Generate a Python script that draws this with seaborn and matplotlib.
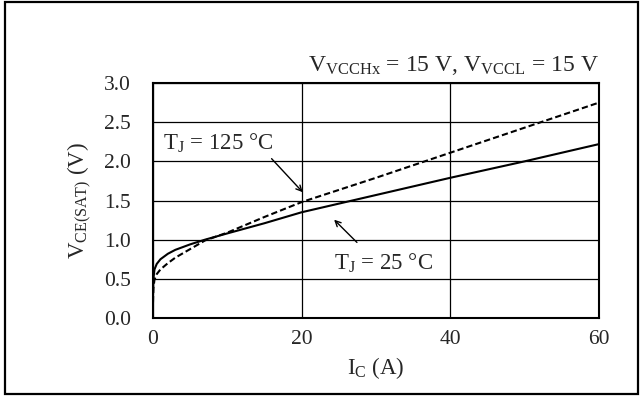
import numpy as np
import pandas as pd
import matplotlib
matplotlib.use("Agg")
import matplotlib.pyplot as plt
import seaborn as sns
from matplotlib.patches import Rectangle

# =========================
# DATA
# =========================
ic_25 = [0.0, 0.05, 0.2, 0.5, 1.0, 2.0, 3.0, 5.0, 7.0, 10.0, 15.0, 20.0, 30.0, 40.0, 50.0, 60.0]
vce_25 = [0.30, 0.50, 0.62, 0.69, 0.75, 0.82, 0.87, 0.94, 1.00, 1.08, 1.21, 1.35, 1.57, 1.79, 2.00, 2.22]

ic_125 = [0.0, 0.05, 0.2, 0.5, 1.0, 2.0, 3.0, 5.0, 7.0, 10.0, 15.0, 20.0, 30.0, 40.0, 50.0, 60.0]
vce_125 = [0.20, 0.38, 0.49, 0.56, 0.62, 0.70, 0.77, 0.88, 0.99, 1.09, 1.29, 1.48, 1.79, 2.11, 2.43, 2.75]

x_ticks = [0, 20, 40, 60]
y_ticks = [0.0, 0.5, 1.0, 1.5, 2.0, 2.5, 3.0]

df = pd.concat([
    pd.DataFrame({"Ic": ic_25, "Vce": vce_25, "Tj": "25"}),
    pd.DataFrame({"Ic": ic_125, "Vce": vce_125, "Tj": "125"}),
])

# =========================
# STYLE
# =========================
sns.set_style("white")
plt.rcParams["font.family"] = ["Liberation Serif", "DejaVu Serif"]
plt.rcParams["mathtext.fontset"] = "custom"
plt.rcParams["mathtext.rm"] = "Liberation Serif"
plt.rcParams["mathtext.it"] = "Liberation Serif:italic"

fig = plt.figure(figsize=(6.4, 3.96), dpi=100)
ax = fig.add_axes([153 / 640, 1 - 318 / 396, 446 / 640, 235 / 396])

sns.lineplot(data=df, x="Ic", y="Vce", style="Tj", style_order=["25", "125"],
             dashes={"25": "", "125": (3, 1.5)}, color="black", linewidth=1.5,
             legend=False, ax=ax, sort=False, estimator=None)

ax.set_xlim(0, 60)
ax.set_ylim(0, 3)
ax.set_xticks(x_ticks)
ax.set_yticks(y_ticks)
ax.set_yticklabels([f"{v:.1f}" for v in y_ticks])
ax.tick_params(axis="both", length=0, labelsize=15.5)
ax.tick_params(axis="x", pad=9)
ax.tick_params(axis="y", pad=16)
ax.grid(True, color="black", linewidth=0.9)
for s in ax.spines.values():
    s.set_color("black")
    s.set_linewidth(1.5)

ax.set_xlabel(r"I$_{\mathrm{C}}$ (A)", fontsize=16.5, labelpad=4)
ax.set_ylabel(r"V$_{\mathrm{CE(SAT)}}$ (V)", fontsize=16.5, labelpad=7)

ax.text(1.0, 1.025, r"V$_{\mathrm{VCCHx}}$ = 15 V, V$_{\mathrm{VCCL}}$ = 15 V",
        transform=ax.transAxes, ha="right", va="bottom", fontsize=17)

# annotations
ax.annotate("", xy=(20.4, 1.58), xytext=(15.7, 2.06),
            arrowprops=dict(arrowstyle="->", color="black", lw=1.0))
ax.text(1.4, 2.23, r"T$_{\mathrm{J}}$ = 125 °C", ha="left", va="center", fontsize=16.5)
ax.annotate("", xy=(24.1, 1.28), xytext=(27.7, 0.94),
            arrowprops=dict(arrowstyle="->", color="black", lw=1.0))
ax.text(24.4, 0.70, r"T$_{\mathrm{J}}$ = 25 °C", ha="left", va="center", fontsize=16.5)

# outer frame
fig.patches.append(Rectangle((5 / 640, 2 / 396), 633 / 640, 392 / 396,
                             transform=fig.transFigure, fill=False,
                             edgecolor="black", linewidth=1.6))

fig.savefig("out.png", dpi=100)
